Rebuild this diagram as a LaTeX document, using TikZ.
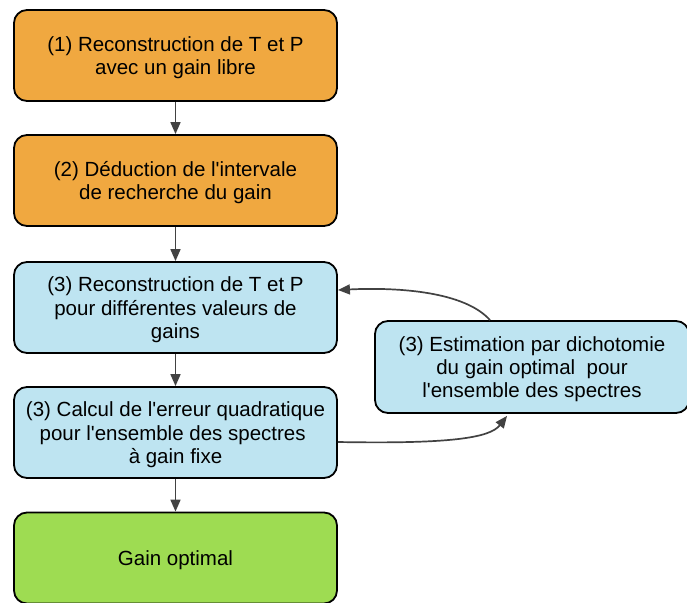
\documentclass[tikz,border=0pt]{standalone}
\usepackage{fontspec}
\setmainfont{Liberation Sans}
\newfontfamily\plainsans{Liberation Sans}
\usetikzlibrary{arrows.meta,calc}
\definecolor{orangebox}{HTML}{F0A840}
\definecolor{bluebox}{HTML}{BEE4F1}
\definecolor{greenbox}{HTML}{9EDC52}
\definecolor{arrowgray}{HTML}{424242}
\newcommand{\boxtext}[1]{\raisebox{0pt}[\dimexpr\height+6pt\relax][\depth]{\begin{tabular}{@{}c@{}}#1\end{tabular}}}
\begin{document}
\begin{tikzpicture}[x=1pt,y=-1pt,
  box/.style={draw=black, line width=1.8pt, rounded corners=13pt, minimum width=323pt, minimum height=91pt, inner sep=0pt, font=\plainsans\fontsize{20.5}{23.3}\selectfont},
  wbox/.style={box, minimum width=314pt, minimum height=92pt},
  conn/.style={draw=arrowgray, line width=1.7pt, -{Triangle[length=12pt,width=10pt]}}
]
\useasboundingbox (0,0) rectangle (687,602);
\begin{scope}
\clip (0,0) rectangle (687,602);
\node[box, fill=orangebox] (b1) at (175.5,55.5) {\boxtext{(1) Reconstruction de T et P\\avec un gain libre}};
\node[box, fill=orangebox] (b2) at (175.5,180.5) {\boxtext{(2) Déduction de l'intervale\\de recherche du gain}};
\node[box, fill=bluebox] (b3) at (175.5,307.5) {\boxtext{(3) Reconstruction de T et P\\pour différentes valeurs de\\gains}};
\node[box, fill=bluebox] (b4) at (175.5,432.5) {\boxtext{(3) Calcul de l'erreur quadratique\\pour l'ensemble des spectres\ \ \\à gain fixe}};
\node[box, fill=greenbox] (b5) at (175.5,558) {\boxtext{Gain optimal}};
\node[wbox, fill=bluebox] (b6) at (532,367) {\boxtext{(3) Estimation par dichotomie\\du gain optimal\ \ pour\\l'ensemble des spectres}};
\end{scope}
\draw[conn] (b1) -- (b2);
\draw[conn] (b2) -- (b3);
\draw[conn] (b3) -- (b4);
\draw[conn] (b4) -- (b5);
\coordinate (s6) at ($(b6.north)+(-42,0)$);
\coordinate (e3) at ($(b3.east)+(0,-17.5)$);
\draw[conn] (s6) .. controls (465,292) and (400,287) .. (e3);
\coordinate (s4) at ($(b4.east)+(0,9.5)$);
\coordinate (e6) at ($(b6.south)+(-25,2)$);
\draw[conn] (s4) .. controls (450,444) and (490,438) .. (e6);
\end{tikzpicture}
\end{document}
